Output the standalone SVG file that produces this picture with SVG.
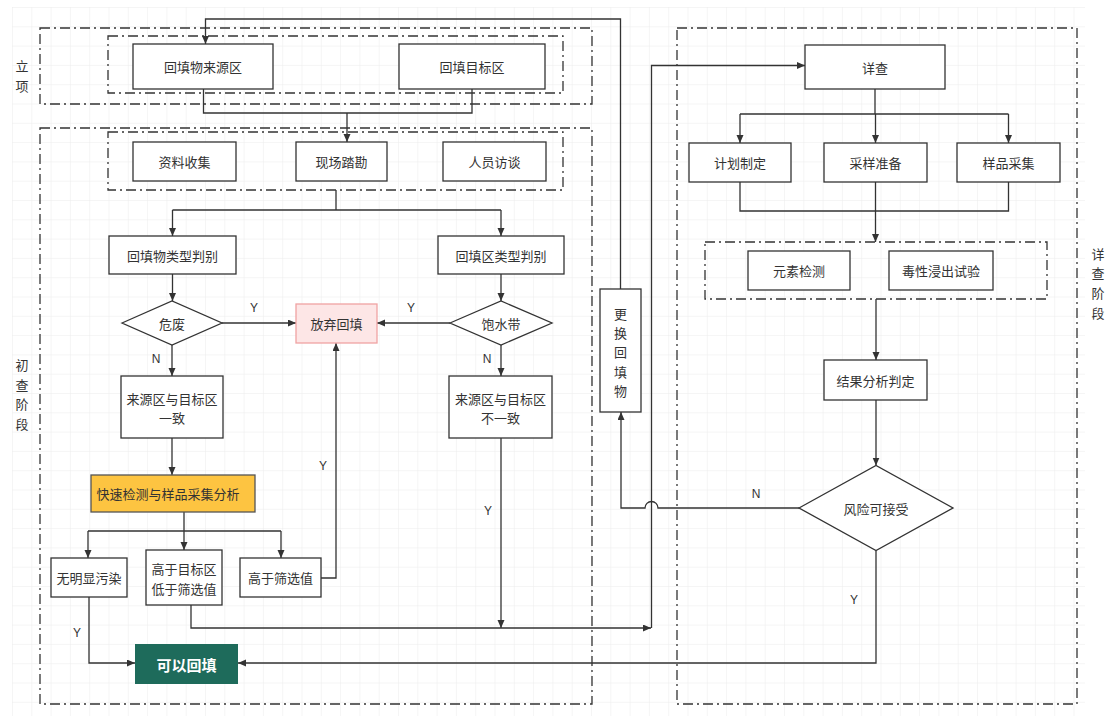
<svg xmlns="http://www.w3.org/2000/svg" width="1108" height="716" viewBox="0 0 1108 716">
<defs>
  <pattern id="grid" patternUnits="userSpaceOnUse" x="12" y="7" width="19.3" height="19.3">
    <path d="M0,0 H19.3 M0,0 V19.3" fill="none" stroke="#ececec" stroke-width="1"/>
  </pattern>
  <marker id="arr" markerUnits="userSpaceOnUse" markerWidth="9" markerHeight="8" refX="8" refY="3.5" orient="auto">
    <path d="M0,0 L8,3.5 L0,7 z" fill="#333"/>
  </marker>
</defs>
<style>
  .box{fill:#fff;stroke:#333;stroke-width:1.3}
  .cont{fill:none;stroke:#333;stroke-width:1.3;stroke-dasharray:10 4 2 4}
  .t{font-family:"Noto Sans CJK SC","Noto Sans",sans-serif;font-size:13px;fill:#333;text-anchor:middle;dominant-baseline:central}
  .lbl{font-family:"Liberation Sans","Noto Sans",sans-serif;font-size:12px;fill:#333;text-anchor:middle;dominant-baseline:central}
  .e{fill:none;stroke:#333;stroke-width:1.3}
  .a{marker-end:url(#arr)}
</style>
<rect x="0" y="0" width="1108" height="716" fill="#fff"/>
<rect x="12" y="7" width="1073" height="709" fill="url(#grid)"/>

<g id="containers">
  <rect class="cont" x="40" y="28" width="552" height="76"/>
  <rect class="cont" x="108" y="36" width="455" height="57"/>
  <rect class="cont" x="40" y="128" width="552" height="576"/>
  <rect class="cont" x="108" y="132" width="455" height="58"/>
  <rect class="cont" x="677" y="28" width="400" height="676"/>
  <rect class="cont" x="705" y="242" width="342" height="57"/>
</g>

<g id="phase-labels">
  <text class="t" x="22" y="65">立</text>
  <text class="t" x="22" y="85">项</text>
  <text class="t" x="22" y="364">初</text>
  <text class="t" x="22" y="384">查</text>
  <text class="t" x="22" y="403">阶</text>
  <text class="t" x="22" y="423">段</text>
  <text class="t" x="1098" y="253">详</text>
  <text class="t" x="1098" y="272">查</text>
  <text class="t" x="1098" y="292">阶</text>
  <text class="t" x="1098" y="312">段</text>
</g>

<g id="connectors">
  <path class="e" d="M203.5,89 V113 H472 V89"/>
  <path class="e a" d="M347,113 V142"/>
  <path class="e" d="M336,190 V210 M172.5,210 H501"/>
  <path class="e a" d="M172.5,210 V236"/>
  <path class="e a" d="M501,210 V236"/>
  <path class="e a" d="M172.5,274 V301"/>
  <path class="e a" d="M501,274 V301"/>
  <path class="e a" d="M222,323 H296"/>
  <path class="e a" d="M450,323 H377"/>
  <path class="e a" d="M172,345 V376"/>
  <path class="e a" d="M501,345 V376"/>
  <path class="e a" d="M172,438 V475"/>
  <path class="e" d="M184,512 V531 M88,531 H281"/>
  <path class="e a" d="M88,531 V558"/>
  <path class="e a" d="M184,531 V550"/>
  <path class="e a" d="M281,531 V558"/>
  <path class="e a" d="M321,578 H336 V343"/>
  <path class="e a" d="M89,597 V663 H135"/>
  <path class="e a" d="M191,605 V628 H651"/>
  <path class="e a" d="M501,438 V628"/>
  <path class="e a" d="M651.5,628 V65.5 H805"/>
  <path class="e a" d="M620.5,289 V19 H205.5 V44"/>
  <path class="e a" d="M876,550.5 V663 H238"/>
  <path class="e a" d="M799,508 H658 A6.5,6.5 0 0 0 645,508 H621 V412"/>
  <path class="e" d="M875,89 V114 M740,114 H1008.5"/>
  <path class="e a" d="M740,114 V143"/>
  <path class="e a" d="M875.5,114 V143"/>
  <path class="e a" d="M1008.5,114 V143"/>
  <path class="e" d="M740,182 V211 H1008.5 V182"/>
  <path class="e a" d="M875.5,182 V242"/>
  <path class="e a" d="M876,299 V360"/>
  <path class="e a" d="M876,400 V465.5"/>
  <text class="lbl" x="254" y="308">Y</text>
  <text class="lbl" x="411" y="308">Y</text>
  <text class="lbl" x="156" y="359">N</text>
  <text class="lbl" x="487" y="359">N</text>
  <text class="lbl" x="323" y="466">Y</text>
  <text class="lbl" x="488" y="511">Y</text>
  <text class="lbl" x="77" y="633">Y</text>
  <text class="lbl" x="756" y="494">N</text>
  <text class="lbl" x="854" y="600">Y</text>
</g>

<g id="n1"><rect class="box" x="133" y="44" width="140" height="45"/><text class="t" x="203" y="66.5">回填物来源区</text></g>
<g id="n2"><rect class="box" x="399" y="44" width="146" height="45"/><text class="t" x="472" y="66.5">回填目标区</text></g>
<g id="n3"><rect class="box" x="133" y="142" width="103" height="39"/><text class="t" x="184.5" y="161.5">资料收集</text></g>
<g id="n4"><rect class="box" x="296" y="142" width="91" height="39"/><text class="t" x="341.5" y="161.5">现场踏勘</text></g>
<g id="n5"><rect class="box" x="443" y="142" width="103" height="39"/><text class="t" x="494.5" y="161.5">人员访谈</text></g>
<g id="n6"><rect class="box" x="109" y="236" width="127" height="38"/><text class="t" x="172.5" y="255">回填物类型判别</text></g>
<g id="n7"><rect class="box" x="438" y="236" width="126" height="38"/><text class="t" x="501" y="255">回填区类型判别</text></g>
<g id="n8"><polygon class="box" points="122,323 172,301 222,323 172,345"/><text class="t" x="172" y="323">危废</text></g>
<g id="n9"><polygon class="box" points="450,323 501,301 552,323 501,345"/><text class="t" x="501" y="323">饱水带</text></g>
<g id="n10"><rect x="296" y="304" width="81" height="39" fill="#fde6e6" stroke="#f0a3a3" stroke-width="1.3"/><text class="t" x="336.5" y="323.5">放弃回填</text></g>
<g id="n11"><rect class="box" x="121" y="376" width="102" height="62"/><text class="t" x="172" y="398">来源区与目标区</text><text class="t" x="172" y="417">一致</text></g>
<g id="n12"><rect class="box" x="449" y="376" width="103" height="62"/><text class="t" x="500.5" y="398">来源区与目标区</text><text class="t" x="500.5" y="417">不一致</text></g>
<g id="n13"><rect x="91" y="475" width="164" height="37" fill="#fdc441" stroke="#555" stroke-width="1.3"/><text class="t" x="168" y="493.5">快速检测与样品采集分析</text></g>
<g id="n14"><rect class="box" x="51" y="558" width="76" height="39"/><text class="t" x="89" y="577.5">无明显污染</text></g>
<g id="n15"><rect class="box" x="146" y="550" width="76" height="55"/><text class="t" x="184" y="568">高于目标区</text><text class="t" x="184" y="588">低于筛选值</text></g>
<g id="n16"><rect class="box" x="240" y="558" width="81" height="39"/><text class="t" x="280.5" y="577.5">高于筛选值</text></g>
<g id="n17"><rect x="135" y="644" width="103" height="40" fill="#1e6b5b"/><text class="t" x="186.5" y="664" style="fill:#fff;font-size:15px;font-weight:bold">可以回填</text></g>
<g id="n18"><rect class="box" x="600" y="289" width="41" height="123"/><text class="t" x="620.5" y="313">更</text><text class="t" x="620.5" y="332">换</text><text class="t" x="620.5" y="351.5">回</text><text class="t" x="620.5" y="371">填</text><text class="t" x="620.5" y="390">物</text></g>
<g id="n19"><rect class="box" x="805" y="45" width="140" height="44"/><text class="t" x="875" y="67">详查</text></g>
<g id="n20"><rect class="box" x="689" y="143" width="102" height="39"/><text class="t" x="740" y="162.5">计划制定</text></g>
<g id="n21"><rect class="box" x="824" y="143" width="103" height="39"/><text class="t" x="875.5" y="162.5">采样准备</text></g>
<g id="n22"><rect class="box" x="957" y="143" width="103" height="39"/><text class="t" x="1008.5" y="162.5">样品采集</text></g>
<g id="n23"><rect class="box" x="748" y="251" width="102" height="39"/><text class="t" x="799" y="270.5">元素检测</text></g>
<g id="n24"><rect class="box" x="889" y="251" width="104" height="39"/><text class="t" x="941" y="270.5">毒性浸出试验</text></g>
<g id="n25"><rect class="box" x="824" y="360" width="103" height="40"/><text class="t" x="875.5" y="380">结果分析判定</text></g>
<g id="n26"><polygon class="box" points="799,508 876,465.5 953,508 876,550.5"/><text class="t" x="876" y="508">风险可接受</text></g>
</svg>
